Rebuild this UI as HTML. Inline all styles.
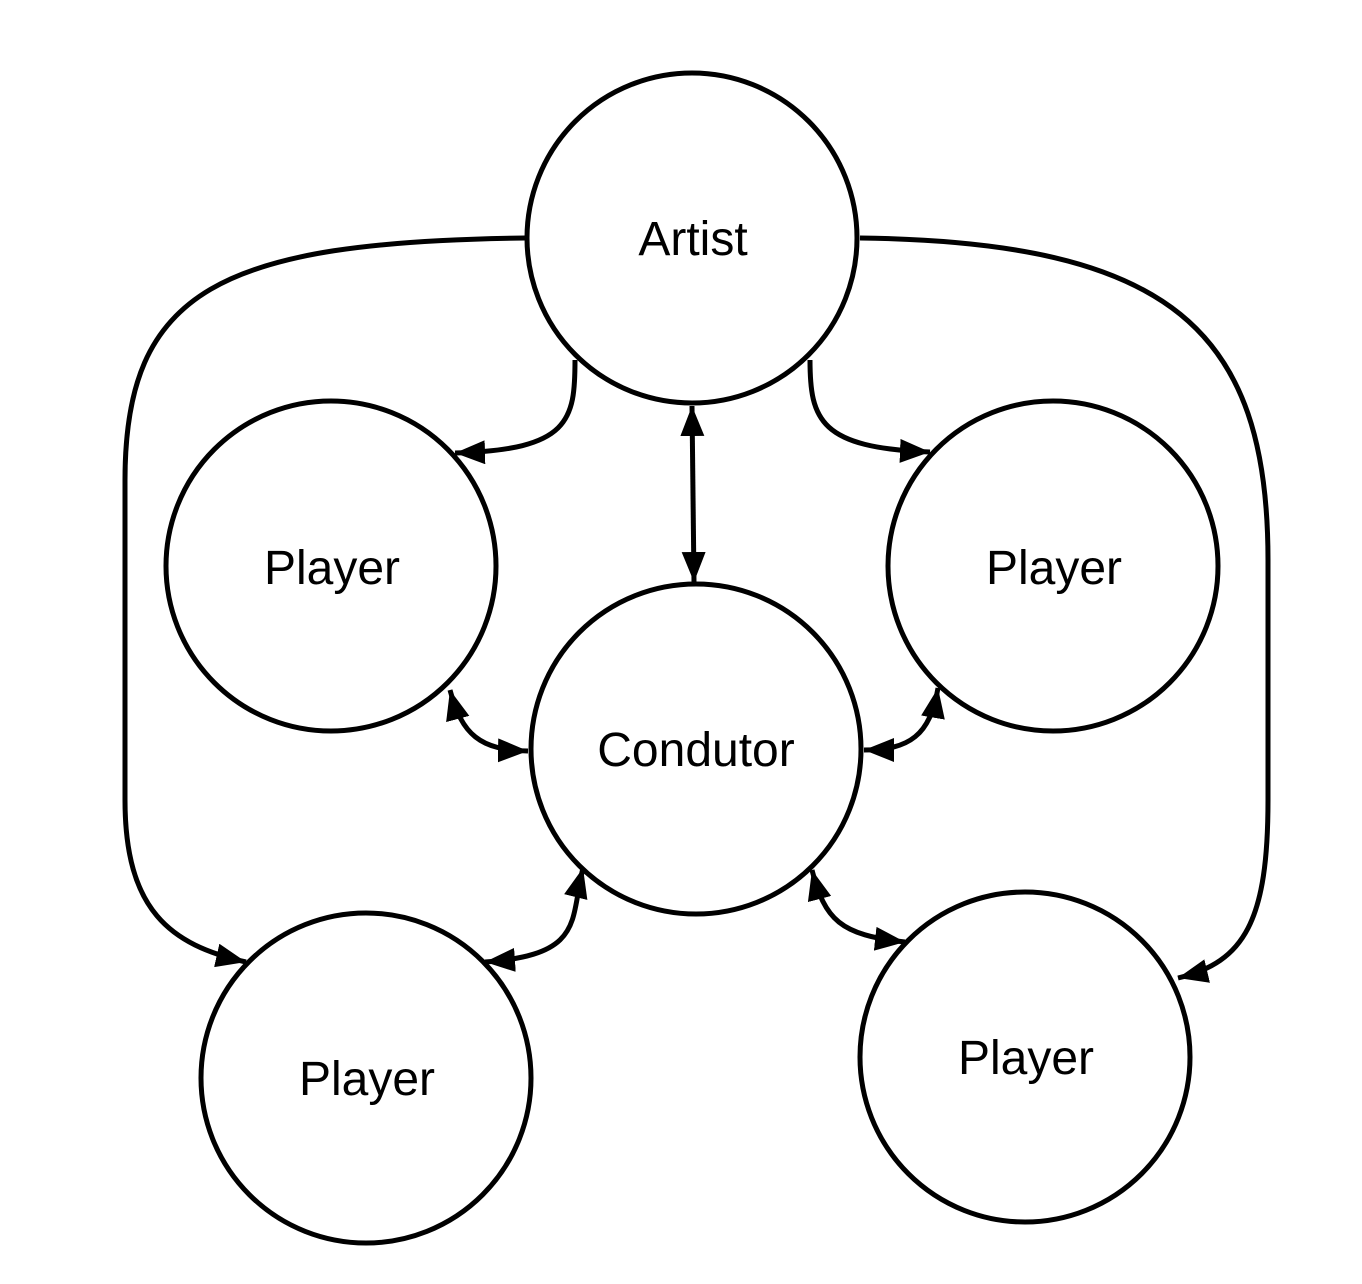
<!DOCTYPE html>
<html><head><meta charset="utf-8"><style>
html,body{margin:0;padding:0;background:#fff;}
svg{display:block;}
text{font-family:"Liberation Sans",sans-serif;font-size:48px;fill:#000;}
</style></head><body>
<svg width="1362" height="1284" viewBox="0 0 1362 1284">
<defs>
<marker id="b" viewBox="0 0 30 24" refX="30" refY="12" markerWidth="30" markerHeight="24" markerUnits="userSpaceOnUse" orient="auto-start-reverse">
<path d="M0,0 L30,12 L0,24 z" fill="#000"/>
</marker>
</defs>
<g fill="#fff" stroke="#000" stroke-width="5">
<circle cx="692" cy="238" r="165"/>
<circle cx="331" cy="566" r="165"/>
<circle cx="1053" cy="566" r="165"/>
<circle cx="696" cy="749" r="165"/>
<circle cx="366" cy="1078" r="165"/>
<circle cx="1025" cy="1057" r="165"/>
</g>
<g fill="none" stroke="#000" stroke-width="5">
<path d="M525,238 C220,242 125,290 125,480 L125,800 C125,910 170,945 246,962" marker-end="url(#b)"/>
<path d="M860,238 C1170,242 1268,330 1268,560 L1268,800 C1268,920 1245,962 1178,978" marker-end="url(#b)"/>
<path d="M575,360 C575,420 570,450 455,453" marker-end="url(#b)"/>
<path d="M810,360 C810,420 820,448 930,452" marker-end="url(#b)"/>
<path d="M692,406 L694,582" marker-start="url(#b)" marker-end="url(#b)"/>
<path d="M450,690 C462,735 480,750 528,751" marker-start="url(#b)" marker-end="url(#b)"/>
<path d="M938,688 C930,735 910,750 864,750" marker-start="url(#b)" marker-end="url(#b)"/>
<path d="M583,868 C570,920 585,955 485,962" marker-start="url(#b)" marker-end="url(#b)"/>
<path d="M812,870 C825,920 840,935 905,942" marker-start="url(#b)" marker-end="url(#b)"/>
</g>
<text x="693" y="255" text-anchor="middle">Artist</text>
<text x="332" y="584" text-anchor="middle">Player</text>
<text x="1054" y="584" text-anchor="middle">Player</text>
<text x="696" y="766" text-anchor="middle">Condutor</text>
<text x="367" y="1095" text-anchor="middle">Player</text>
<text x="1026" y="1074" text-anchor="middle">Player</text>
</svg>
</body></html>
